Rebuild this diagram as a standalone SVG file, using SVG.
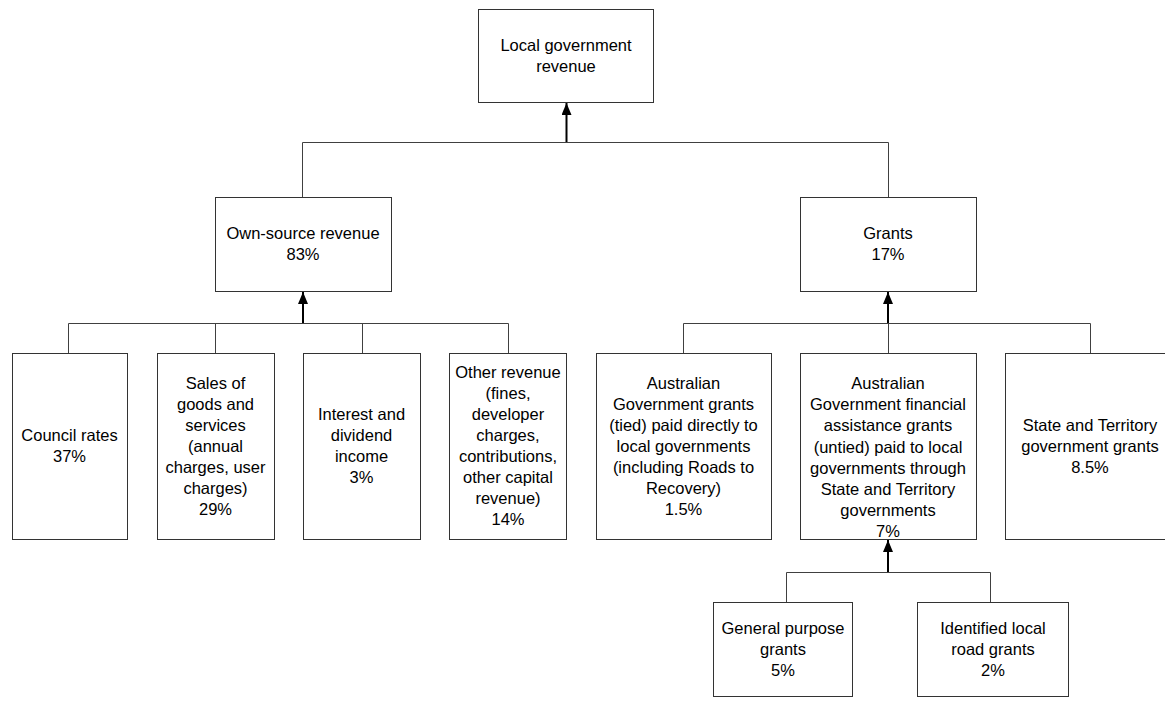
<svg xmlns="http://www.w3.org/2000/svg" width="1165" height="704" viewBox="0 0 1165 704">
<defs>
<marker id="arr" markerUnits="userSpaceOnUse" markerWidth="13" markerHeight="11" refX="12" refY="5" orient="auto">
<path d="M0,0 L12,5 L0,10 z" fill="#000"/>
</marker>
<style>
.box{fill:#fff;stroke:#333;stroke-width:1}
.con{fill:none;stroke:#404040;stroke-width:1}
.arw{fill:none;stroke:#000;stroke-width:2}
text{font-family:"Liberation Sans",Arial,sans-serif;font-size:16.5px;fill:#000;text-anchor:middle}
</style>
</defs>
<rect width="1165" height="704" fill="#fff"/>
<g id="connectors">
<path class="con" d="M302.5,197 V142.5 H888.5 V197"/>
<path class="arw" d="M566.5,142 V103" marker-end="url(#arr)"/>
<path class="con" d="M68.5,353 V323.5 H508.5 V353 M215.5,323.5 V353 M362.5,323.5 V353"/>
<path class="arw" d="M303,323 V292" marker-end="url(#arr)"/>
<path class="con" d="M683.5,353 V323.5 H1090.5 V353 M888.5,323.5 V353"/>
<path class="arw" d="M888,323 V292" marker-end="url(#arr)"/>
<path class="con" d="M786.5,602 V572.5 H990.5 V602"/>
<path class="arw" d="M888,572 V540" marker-end="url(#arr)"/>
</g>
<g id="local-government-revenue">
<rect class="box" x="478.5" y="9.5" width="175" height="93"/>
<text x="566" y="50.5">Local government</text>
<text x="566" y="71.5">revenue</text>
</g>
<g id="own-source-revenue">
<rect class="box" x="215.5" y="197.5" width="176" height="94"/>
<text x="303" y="239">Own-source revenue</text>
<text x="303" y="260">83%</text>
</g>
<g id="grants">
<rect class="box" x="800.5" y="197.5" width="176" height="94"/>
<text x="888" y="239">Grants</text>
<text x="888" y="260">17%</text>
</g>
<g id="council-rates">
<rect class="box" x="12.5" y="353.5" width="115" height="186"/>
<text x="69.5" y="441">Council rates</text>
<text x="69.5" y="462">37%</text>
</g>
<g id="sales">
<rect class="box" x="157.5" y="353.5" width="117" height="186"/>
<text x="215.5" y="388.5">Sales of</text>
<text x="215.5" y="409.5">goods and</text>
<text x="215.5" y="430.5">services</text>
<text x="215.5" y="451.5">(annual</text>
<text x="215.5" y="472.5">charges, user</text>
<text x="215.5" y="493.5">charges)</text>
<text x="215.5" y="514.5">29%</text>
</g>
<g id="interest">
<rect class="box" x="303.5" y="353.5" width="117" height="186"/>
<text x="361.5" y="420">Interest and</text>
<text x="361.5" y="441">dividend</text>
<text x="361.5" y="462">income</text>
<text x="361.5" y="483">3%</text>
</g>
<g id="other-revenue">
<rect class="box" x="449.5" y="353.5" width="117" height="186"/>
<text x="508" y="378">Other revenue</text>
<text x="508" y="399">(fines,</text>
<text x="508" y="420">developer</text>
<text x="508" y="441">charges,</text>
<text x="508" y="462">contributions,</text>
<text x="508" y="483">other capital</text>
<text x="508" y="504">revenue)</text>
<text x="508" y="525">14%</text>
</g>
<g id="aus-tied">
<rect class="box" x="596.5" y="353.5" width="175" height="186"/>
<text x="683.5" y="388.5">Australian</text>
<text x="683.5" y="409.5">Government grants</text>
<text x="683.5" y="430.5">(tied) paid directly to</text>
<text x="683.5" y="451.5">local governments</text>
<text x="683.5" y="472.5">(including Roads to</text>
<text x="683.5" y="493.5">Recovery)</text>
<text x="683.5" y="514.5">1.5%</text>
</g>
<g id="aus-untied">
<rect class="box" x="800.5" y="353.5" width="176" height="186"/>
<text x="888" y="389">Australian</text>
<text x="888" y="410.2">Government financial</text>
<text x="888" y="431.4">assistance grants</text>
<text x="888" y="452.6">(untied) paid to local</text>
<text x="888" y="473.8">governments through</text>
<text x="888" y="495">State and Territory</text>
<text x="888" y="516.2">governments</text>
<text x="888" y="537.4">7%</text>
</g>
<g id="state-territory">
<rect class="box" x="1005.5" y="353.5" width="175" height="186"/>
<text x="1090" y="430.5">State and Territory</text>
<text x="1090" y="451.5">government grants</text>
<text x="1090" y="472.5">8.5%</text>
</g>
<g id="general-purpose">
<rect class="box" x="713.5" y="602.5" width="139" height="94"/>
<text x="783" y="633.5">General purpose</text>
<text x="783" y="654.5">grants</text>
<text x="783" y="675.5">5%</text>
</g>
<g id="identified-road">
<rect class="box" x="917.5" y="602.5" width="151" height="94"/>
<text x="993" y="633.5">Identified local</text>
<text x="993" y="654.5">road grants</text>
<text x="993" y="675.5">2%</text>
</g>
</svg>
